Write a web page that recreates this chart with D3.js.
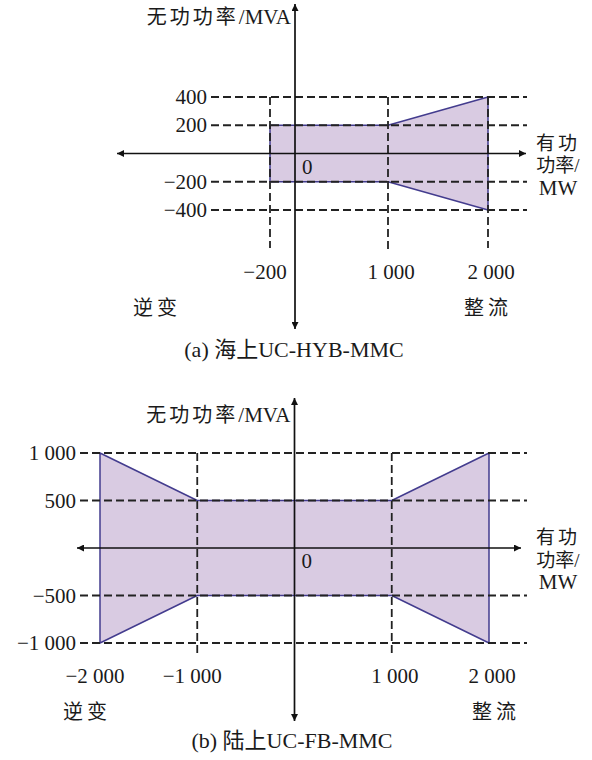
<!DOCTYPE html>
<html>
<head>
<meta charset="utf-8">
<script src="https://cdn.jsdelivr.net/npm/d3@7/dist/d3.min.js"></script>
<style>
  html, body { margin: 0; padding: 0; background: #fff; }
  svg { display: block; }
  text { font-family: "Liberation Serif", "Times New Roman", "Noto Sans CJK SC", serif; fill: #1a1a1a; }
</style>
</head>
<body>
<svg id="chart" width="592" height="760"></svg>
<script>
// (a) offshore UC-HYB-MMC operating region
const topPTicks = [-200, 1000, 2000];
const topQTicks = [400, 200, -200, -400];
const topBoundaryP = [-200, 1000, 2000, 2000, 1000, -200];
const topBoundaryQ = [200, 200, 400, -400, -200, -200];

// (b) onshore UC-FB-MMC operating region
const botPTicks = [-2000, -1000, 1000, 2000];
const botQTicks = [1000, 500, -500, -1000];
const botBoundaryP = [-2000, -1000, 1000, 2000, 2000, 1000, -1000, -2000];
const botBoundaryQ = [1000, 500, 500, 1000, -1000, -500, -500, -1000];

const qTitleName = "无功功率";
const qTitleUnit = "/MVA";
const pTitleLines = ["有功", "功率/", "MW"];
const sideLeft = "逆变";
const sideRight = "整流";
const captions = ["(a) 海上UC-HYB-MMC", "(b) 陆上UC-FB-MMC"];

const fmt = d3.formatLocale({ decimal: ".", thousands: " ", grouping: [3], currency: ["", ""], minus: "\u2212" }).format(",d");

const svg = d3.select("#chart");
const defs = svg.append("defs");
defs.append("marker")
  .attr("id", "arrow")
  .attr("viewBox", "0 0 10 10")
  .attr("refX", 10).attr("refY", 5)
  .attr("markerWidth", 9).attr("markerHeight", 7)
  .attr("markerUnits", "userSpaceOnUse")
  .attr("orient", "auto")
  .append("path").attr("d", "M0,0 L10,5 L0,10 Z").attr("fill", "#111");

const FILL = "#d9cbe2";
const EDGE = "#433c8e";
const DASH = "8,4";
const NUM_SIZE = "21px";
const CJK_SIZE = "20px";

function drawPanel(cfg) {
  const g = svg.append("g");
  const x = cfg.x, y = cfg.y;
  const x0 = x(0), y0 = y(0);

  // operating region
  const pts = cfg.bp.map((p, i) => [x(p), y(cfg.bq[i])]);
  g.append("path")
    .attr("d", d3.line()(pts) + "Z")
    .attr("fill", FILL)
    .attr("stroke", EDGE)
    .attr("stroke-width", 1.5)
    .attr("stroke-linejoin", "round");

  // horizontal dashed reference lines
  g.selectAll(".hq").data(cfg.qTicks).join("line")
    .attr("x1", cfg.hx1).attr("x2", cfg.hx2)
    .attr("y1", d => y(d)).attr("y2", d => y(d))
    .attr("stroke", "#222").attr("stroke-width", 1.8)
    .attr("stroke-dasharray", DASH);

  // vertical dashed reference lines
  g.selectAll(".vp").data(cfg.vLines).join("line")
    .attr("x1", d => x(d.p)).attr("x2", d => x(d.p))
    .attr("y1", cfg.vTop).attr("y2", d => d.bottom)
    .attr("stroke", "#222").attr("stroke-width", 1.8)
    .attr("stroke-dasharray", DASH);

  // axes with arrowheads
  const axis = (x2, y2) => g.append("line")
    .attr("x1", x0).attr("y1", y0).attr("x2", x2).attr("y2", y2)
    .attr("stroke", "#111").attr("stroke-width", 1.7).attr("marker-end", "url(#arrow)");
  axis(cfg.axRight, y0);
  axis(cfg.axLeft, y0);
  axis(x0, cfg.axTop);
  axis(x0, cfg.axBottom);

  // q tick labels
  g.selectAll(".ql").data(cfg.qTicks).join("text")
    .attr("x", cfg.hx1 - 4).attr("y", d => y(d) + 7)
    .attr("text-anchor", "end")
    .style("font-size", NUM_SIZE)
    .text(d => fmt(d));

  // p tick labels
  g.selectAll(".pl").data(cfg.pTicks).join("text")
    .attr("x", d => x(d) + (d < 0 ? -5 : 3)).attr("y", cfg.pLabelY)
    .attr("text-anchor", "middle")
    .style("font-size", NUM_SIZE)
    .text(d => fmt(d));

  // origin
  g.append("text").attr("x", x0 + 7).attr("y", y0 + 20)
    .style("font-size", NUM_SIZE).text("0");

  // axis titles
  const qt = g.append("text").attr("x", x0 - 4).attr("y", cfg.qTitleY)
    .attr("text-anchor", "end");
  qt.append("tspan").style("font-size", CJK_SIZE).style("letter-spacing", "3px").text(qTitleName);
  qt.append("tspan").style("font-size", NUM_SIZE).text(qTitleUnit);

  pTitleLines.forEach((t, i) => {
    g.append("text").attr("x", 558).attr("y", y0 - 4 + i * 22.5)
      .attr("text-anchor", "middle")
      .style("font-size", i < 2 ? "19px" : NUM_SIZE).style("letter-spacing", i === 0 ? "3px" : "0px")
      .text(t);
  });

  // operating modes
  g.append("text").attr("x", cfg.leftX).attr("y", cfg.sideY)
    .attr("text-anchor", "middle")
    .style("font-size", CJK_SIZE).style("letter-spacing", "4px").text(sideLeft);
  g.append("text").attr("x", cfg.rightX).attr("y", cfg.sideY)
    .attr("text-anchor", "middle")
    .style("font-size", CJK_SIZE).style("letter-spacing", "4px").text(sideRight);

  // caption
  g.append("text").attr("x", cfg.capX).attr("y", cfg.capY)
    .attr("text-anchor", "middle")
    .style("font-size", "22px")
    .text(cfg.caption);
}

// panel (a)
const xTop = d3.scaleLinear().domain([-200, 0, 1000, 2000]).range([270, 295, 388, 488]);
const yTop = d3.scaleLinear().domain([-400, 400]).range([210, 97]);
drawPanel({
  x: xTop, y: yTop,
  bp: topBoundaryP, bq: topBoundaryQ,
  qTicks: topQTicks, pTicks: topPTicks,
  hx1: 211, hx2: 527,
  vTop: yTop(400),
  vLines: [{ p: -200, bottom: 248 }, { p: 1000, bottom: 253 }, { p: 2000, bottom: 248 }],
  axLeft: 117, axRight: 526, axTop: 4, axBottom: 329,
  pLabelY: 279, qTitleY: 24,
  leftX: 157, rightX: 488, sideY: 315,
  capX: 294, capY: 357, caption: captions[0]
});

// panel (b)
const xBot = d3.scaleLinear().domain([-2000, 2000]).range([100, 489]);
const yBot = d3.scaleLinear().domain([-1000, 1000]).range([643, 453]);
drawPanel({
  x: xBot, y: yBot,
  bp: botBoundaryP, bq: botBoundaryQ,
  qTicks: botQTicks, pTicks: botPTicks,
  hx1: 80, hx2: 527,
  vTop: yBot(1000),
  vLines: [{ p: -1000, bottom: 656 }, { p: 1000, bottom: 656 }],
  axLeft: 77, axRight: 521, axTop: 398, axBottom: 721,
  pLabelY: 683, qTitleY: 422,
  leftX: 87, rightX: 496, sideY: 719,
  capX: 292, capY: 748, caption: captions[1]
});
</script>
</body>
</html>
